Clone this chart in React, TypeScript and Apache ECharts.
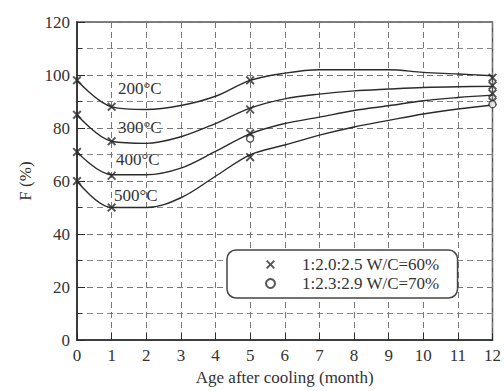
import React, { useEffect, useRef } from "react";
import * as echarts from "echarts";

const months = [0, 1, 2, 3, 4, 5, 6, 7, 8, 9, 10, 11, 12];
// Fitted curves at each month
const curve200 = [98, 88, 87, 88.5, 92, 98, 100.7, 102, 102, 102, 101, 100.4, 99.7];
const curve300 = [85, 75, 74.2, 76.7, 81.7, 87.5, 91, 92.8, 94, 94.7, 95.3, 95.6, 95.7];
const curve400 = [71, 62.4, 62.4, 64.9, 71.2, 77.8, 81.7, 84.1, 86.6, 88.4, 90.3, 91.5, 92.4];
const curve500 = [60, 50, 50, 53.7, 61.8, 69.9, 73.6, 77.3, 80.4, 82.9, 85.3, 87.2, 88.7];
const tempLabels = ["200°C", "300°C", "400°C", "500°C"];

// Measured points
const pointMonths = [0, 1, 5, 12];
const points60 = [
  [98, 88, 98, 99],
  [85, 75, 87, 96],
  [71, 62, 78, 93],
  [60, 50, 69, 90],
];
const points70: [number, number][] = [
  [5, 76],
  [12, 89],
];
const legendNames = ["1:2.0:2.5 W/C=60%", "1:2.3:2.9 W/C=70%"];
const yTicks = [0, 20, 40, 60, 80, 100, 120];

const FONT = "'Liberation Serif', 'DejaVu Serif', serif";
const FS = 17;
const INK = "#2b2b2b";
const CROSS = "path://M0,1.5L1.5,0L5,3.5L8.5,0L10,1.5L6.5,5L10,8.5L8.5,10L5,6.5L1.5,10L0,8.5L3.5,5Z";

export default function App() {
  const ref = useRef<HTMLDivElement>(null);
  useEffect(() => {
    if (!ref.current) return;
    const chart = echarts.init(ref.current, null, { renderer: "svg" });
    const curves = [curve200, curve300, curve400, curve500];
    const lineSeries = curves.map((c, i) => ({
      type: "line",
      name: tempLabels[i],
      data: months.map((m, j) => [m, c[j]]),
      smooth: 0.35,
      showSymbol: false,
      lineStyle: { color: INK, width: 1.4 },
      z: 3,
      silent: true,
    }));
    const pts60: [number, number][] = [];
    points60.forEach((row) => row.forEach((v, j) => pts60.push([pointMonths[j], v])));
    chart.setOption({
      animation: false,
      grid: {
        left: 77,
        right: 9,
        top: 22,
        bottom: 47,
        show: true,
        borderColor: "#555",
        borderWidth: 1.5,
      },
      xAxis: {
        type: "value",
        min: 0,
        max: 12,
        interval: 1,
        name: "Age after cooling (month)",
        nameLocation: "middle",
        nameGap: 28,
        nameTextStyle: { fontFamily: FONT, fontSize: FS, color: "#333" },
        axisLine: { lineStyle: { color: INK, width: 1.6 } },
        axisTick: { inside: true, length: 7, lineStyle: { color: INK } },
        axisLabel: { fontFamily: FONT, fontSize: FS, color: "#333", margin: 7 },
        splitLine: { show: true, lineStyle: { type: [6, 4], color: "#777", width: 1 } },
      },
      yAxis: {
        type: "value",
        min: 0,
        max: 120,
        interval: 20,
        name: "F (%)",
        nameLocation: "middle",
        nameGap: 42,
        nameTextStyle: { fontFamily: FONT, fontSize: FS, color: "#333" },
        axisLine: { show: true, lineStyle: { color: INK, width: 1.6 } },
        axisTick: { show: true, inside: true, length: 8, lineStyle: { color: INK } },
        minorTick: { show: true, splitNumber: 2, length: 5, lineStyle: { color: INK } },
        axisLabel: {
          fontFamily: FONT,
          fontSize: FS,
          color: "#333",
          margin: 7,
          formatter: (v: number) => (yTicks.includes(v) ? String(v) : ""),
        },
        splitLine: { show: true, lineStyle: { type: [6, 4], color: "#777", width: 1 } },
        minorSplitLine: { show: true, lineStyle: { type: [6, 4], color: "#888", width: 1 } },
      },
      legend: {
        orient: "vertical",
        left: 227,
        top: 250,
        data: legendNames,
        itemWidth: 9,
        itemHeight: 9,
        itemGap: 2,
        padding: [6, 18, 6, 38],
        borderColor: "#444",
        borderWidth: 1.5,
        borderRadius: 9,
        backgroundColor: "#fff",
        textStyle: { fontFamily: FONT, fontSize: FS, color: "#333", padding: [0, 0, 0, 22] },
      },
      series: [
        ...lineSeries,
        {
          type: "scatter",
          name: legendNames[0],
          data: pts60,
          symbol: CROSS,
          symbolSize: 9,
          itemStyle: { color: INK },
          z: 5,
        },
        {
          type: "scatter",
          name: legendNames[1],
          data: points70,
          symbol: "circle",
          symbolSize: 7,
          itemStyle: { color: "#fff", borderColor: INK, borderWidth: 1.3 },
          z: 6,
        },
      ],
      graphic: [
        { type: "text", left: 118, top: 80, style: { text: tempLabels[0], font: `${FS}px ${FONT}`, fill: "#333" } },
        { type: "text", left: 118, top: 119, style: { text: tempLabels[1], font: `${FS}px ${FONT}`, fill: "#333" } },
        { type: "text", left: 116, top: 151, style: { text: tempLabels[2], font: `${FS}px ${FONT}`, fill: "#333" } },
        { type: "text", left: 114, top: 187, style: { text: tempLabels[3], font: `${FS}px ${FONT}`, fill: "#333" } },
      ],
    });
    return () => chart.dispose();
  }, []);
  return <div ref={ref} style={{ width: 504, height: 391, position: "absolute", left: 0, top: 0 }} />;
}
